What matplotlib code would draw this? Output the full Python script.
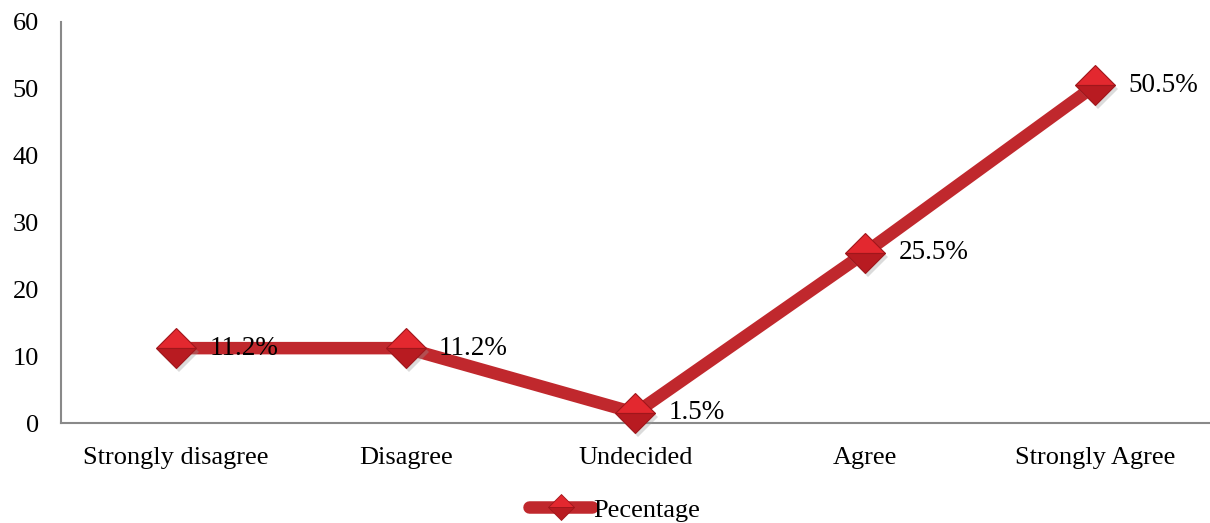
import matplotlib
matplotlib.use("Agg")
import matplotlib.pyplot as plt
from matplotlib.lines import Line2D
import matplotlib.transforms as mtransforms

categories = ["Strongly disagree", "Disagree", "Undecided", "Agree", "Strongly Agree"]
values = [11.2, 11.2, 1.5, 25.5, 50.5]
labels = ["11.2%", "11.2%", "1.5%", "25.5%", "50.5%"]
series_name = "Pecentage"
yticks = [0, 10, 20, 30, 40, 50, 60]

plt.rcParams['font.family'] = ['Liberation Serif', 'DejaVu Serif']

fig = plt.figure(figsize=(12.10, 5.23), dpi=100)
ax = fig.add_axes([0.0504, 0.1912, 0.9496, 0.7668])

x = list(range(len(categories)))
line_color = "#C0282D"

ax.plot(x, values, color=line_color, linewidth=9, solid_capstyle='butt', zorder=2,
        clip_on=False)
# shadow
shadow = mtransforms.offset_copy(ax.transData, fig=fig, x=3, y=-4, units='dots')
ax.plot(x, values, linestyle='none', marker='D', markersize=20, color='#999999',
        alpha=0.35, markeredgewidth=0, transform=shadow, zorder=3, clip_on=False)
ax.plot(x, values, linestyle='none', marker='D', markersize=20, fillstyle='top',
        markerfacecolor='#E3282F', markerfacecoloralt='#B81B21',
        markeredgecolor='#A0161B', markeredgewidth=0.8, zorder=4, clip_on=False)

for xi, v, lab in zip(x, values, labels):
    ax.annotate(lab, (xi, v), xytext=(24, 0), textcoords='offset points',
                ha='left', va='center', fontsize=19.5, color='black', zorder=5)

ax.set_xlim(-0.5, len(categories) - 0.5)
ax.set_ylim(0, 60)
ax.set_yticks(yticks)
ax.set_xticks(x)
ax.set_xticklabels(categories)
ax.tick_params(axis='both', length=0, labelsize=19)
ax.tick_params(axis='y', pad=16)
ax.tick_params(axis='x', pad=17)
for s in ['top', 'right']:
    ax.spines[s].set_visible(False)
for s in ['left', 'bottom']:
    ax.spines[s].set_color('#898989')
    ax.spines[s].set_linewidth(1.5)
    ax.spines[s].set_zorder(1)

handle = Line2D([0], [0], color=line_color, linewidth=9, marker='D', markersize=13,
                fillstyle='top', markerfacecolor='#E3282F', markerfacecoloralt='#B81B21',
                markeredgecolor='#A0161B', markeredgewidth=0.6, solid_capstyle='round')
fig.legend([handle], [series_name], loc='center', bbox_to_anchor=(0.508, 0.025),
           frameon=False, fontsize=19, handlelength=2.4, handletextpad=0.05,
           borderaxespad=0)

fig.savefig("out.png", dpi=100)
